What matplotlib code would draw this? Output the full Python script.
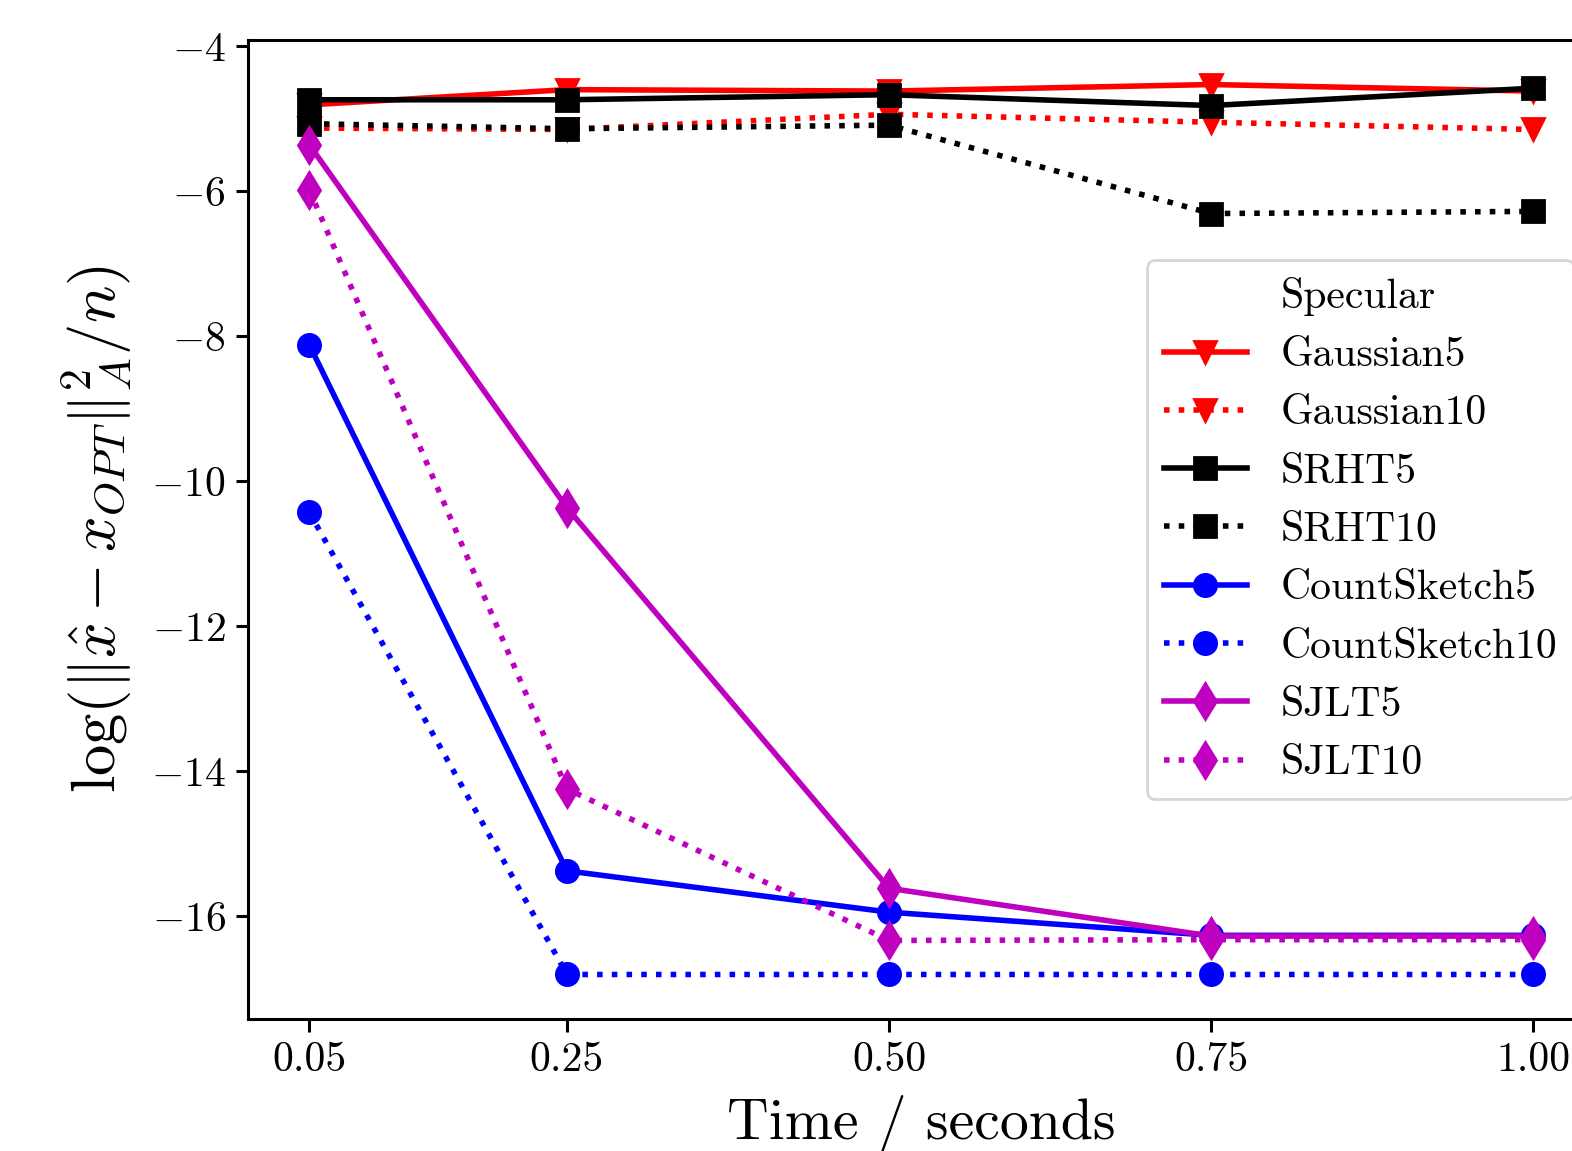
import numpy as np
import matplotlib
matplotlib.use("Agg")
import matplotlib.pyplot as plt

plt.rcParams['font.family'] = 'serif'
plt.rcParams['font.serif'] = ['cmr10']
plt.rcParams['mathtext.fontset'] = 'cm'
plt.rcParams['axes.formatter.use_mathtext'] = True
plt.rcParams['axes.unicode_minus'] = True

################# data
times = [0.05, 0.25, 0.50, 0.75, 1.00]
xticklabels = ["0.05", "0.25", "0.50", "0.75", "1.00"]

gaussian5 = [-4.81, -4.60, -4.62, -4.53, -4.62]
gaussian10 = [-5.13, -5.15, -4.94, -5.05, -5.15]
srht5 = [-4.74, -4.74, -4.67, -4.82, -4.58]
srht10 = [-5.07, -5.14, -5.09, -6.31, -6.28]
countsketch5 = [-8.12, -15.38, -15.95, -16.27, -16.27]
countsketch10 = [-10.43, -16.81, -16.81, -16.81, -16.81]
sjlt5 = [-5.36, -10.37, -15.62, -16.28, -16.28]
sjlt10 = [-5.98, -14.25, -16.34, -16.33, -16.33]

fig = plt.figure(figsize=(7.86, 5.755), dpi=200)
ax = fig.add_axes([0.1578, 0.1147, 0.8565, 0.8505])

ms = 8
lw = 2
ax.plot([], [], ' ', label='Specular')
ax.plot(times, gaussian5, 'r-', marker='v', ms=ms, lw=lw, label='Gaussian5')
ax.plot(times, gaussian10, 'r:', marker='v', ms=ms, lw=lw, label='Gaussian10')
ax.plot(times, srht5, 'k-', marker='s', ms=ms, lw=lw, label='SRHT5')
ax.plot(times, srht10, 'k:', marker='s', ms=ms, lw=lw, label='SRHT10')
ax.plot(times, countsketch5, 'b-', marker='o', ms=ms, lw=lw, label='CountSketch5')
ax.plot(times, countsketch10, 'b:', marker='o', ms=ms, lw=lw, label='CountSketch10')
ax.plot(times, sjlt5, 'm-', marker='d', ms=9, lw=lw, label='SJLT5')
ax.plot(times, sjlt10, 'm:', marker='d', ms=9, lw=lw, label='SJLT10')

ax.set_xticks(times)
ax.set_xticklabels(xticklabels)
ax.tick_params(labelsize=15, width=1.1, length=4.5)
for s in ax.spines.values():
    s.set_linewidth(1.1)

ax.set_xlabel("Time / seconds", fontsize=20.8, labelpad=6)
ax.set_ylabel(r"$\log(\|\hat{x} - x_{OPT}\|_A^2/n)$", fontsize=22.5, labelpad=6)
ax.legend(loc='center right', fontsize=15)

fig.savefig("out.png", dpi=200)
